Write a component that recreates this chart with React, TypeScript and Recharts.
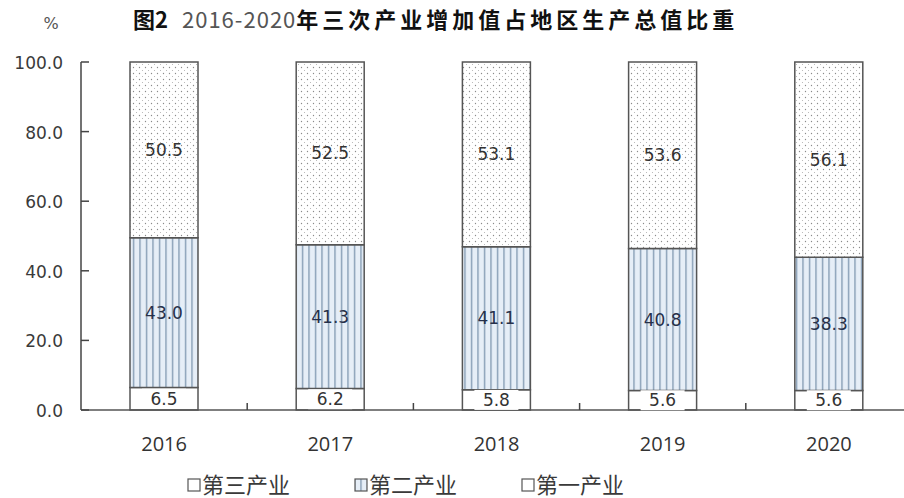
import React from 'react';
import { BarChart, Bar, XAxis, YAxis, LabelList, Legend } from 'recharts';

const years = ['2016', '2017', '2018', '2019', '2020'];
const tertiary = [50.5, 52.5, 53.1, 53.6, 56.1];
const secondary = [43.0, 41.3, 41.1, 40.8, 38.3];
const primary = [6.5, 6.2, 5.8, 5.6, 5.6];
const yTicks = [0, 20, 40, 60, 80, 100];
const seriesNames = ['第三产业', '第二产业', '第一产业'];
const titleParts = ['图2', '2016-2020', '年三次产业增加值占地区生产总值比重'];

const data = years.map((y, i) => ({
  idx: i,
  year: y,
  primary: primary[i],
  secondary: secondary[i],
  tertiary: tertiary[i],
}));

const xTicks = [0, 0.5, 1, 1.5, 2, 2.5, 3, 3.5, 4];

const XTick = (props: any) => {
  const { x, y, payload } = props;
  const v = payload.value;
  if (Number.isInteger(v)) {
    return (
      <text x={x} y={y + 41} textAnchor="middle" fontFamily="'Open Sans', sans-serif" fontSize={20} fill="#333">
        {years[v]}
      </text>
    );
  }
  return <line x1={x} x2={x} y1={y} y2={y - 7} stroke="#444" strokeWidth={1.5} />;
};

const YTick = (props: any) => {
  const { x, y, payload } = props;
  return (
    <g>
      <line x1={x} x2={x + 8} y1={y} y2={y} stroke="#444" strokeWidth={1.5} />
      <text x={x - 18} y={y + 7} textAnchor="end" fontFamily="'DejaVu Sans', sans-serif" fontSize={17} fill="#3a3a3a">
        {Number(payload.value).toFixed(1)}
      </text>
    </g>
  );
};

const makeLabel = (color: string, boxed: boolean) => (props: any) => {
  const { x, y, width, height, value } = props;
  const cx = x + width / 2;
  const cy = y + height / 2;
  return (
    <g>
      {boxed && <rect x={cx - 22} y={cy - 10} width={44} height={20} fill="#fff" />}
      <text x={cx} y={cy + 6} textAnchor="middle" fontFamily="'DejaVu Sans', sans-serif" fontSize={17} fill={color}>
        {Number(value).toFixed(1)}
      </text>
    </g>
  );
};

const LegendContent = () => {
  const items = [
    { x: 188, fill: '#fff' },
    { x: 355, fill: 'url(#vlines)' },
    { x: 522, fill: '#fff' },
  ];
  return (
    <svg width={904} height={30} style={{ display: 'block' }}>
      {items.map((it, i) => (
        <g key={i}>
          <rect x={it.x} y={11} width={12} height={12} fill={it.fill} stroke="#555" strokeWidth={1.2} />
          <text x={it.x + 14} y={25} fontFamily="'Noto Sans CJK SC', sans-serif" fontSize={22} fill="#3a3a3a">
            {seriesNames[i]}
          </text>
        </g>
      ))}
    </svg>
  );
};

export default function App() {
  return (
    <div style={{ position: 'absolute', left: 0, top: 0, width: 904, height: 498, overflow: 'hidden', background: '#fff' }}>
      <svg width={904} height={44} style={{ position: 'absolute', left: 0, top: 0 }}>
        <text x={133} y={28} fontFamily="'Noto Sans CJK SC', sans-serif" fontSize={22}>
          <tspan fontWeight="bold" fill="#111">{titleParts[0]}</tspan>
          <tspan dx={14} fill="#555" letterSpacing={1}>{titleParts[1]}</tspan>
          <tspan fontWeight="bold" fill="#111" letterSpacing={4}>{titleParts[2]}</tspan>
        </text>
        <text x={51} y={29} textAnchor="middle" fontFamily="'DejaVu Sans', sans-serif" fontSize={16} fill="#555">%</text>
      </svg>
      <BarChart
        width={912}
        height={498}
        data={data}
        margin={{ top: 62, right: 0, left: 0, bottom: 18 }}
        style={{ position: 'absolute', left: 0, top: 0 }}
      >
        <defs>
          <pattern id="dots" patternUnits="userSpaceOnUse" width={6} height={6}>
            <rect width={6} height={6} fill="#fff" />
            <circle cx={1.5} cy={1.5} r={0.65} fill="#8a8a8a" />
            <circle cx={4.5} cy={4.5} r={0.55} fill="#b0b0b0" />
          </pattern>
          <pattern id="vlines" patternUnits="userSpaceOnUse" width={6.5} height={6}>
            <rect width={6.5} height={6} fill="#e6eef7" />
            <rect x={3} width={1.1} height={6} fill="#6b86a3" />
          </pattern>
        </defs>
        <XAxis
          type="number"
          dataKey="idx"
          domain={[-0.5, 4.5]}
          ticks={xTicks}
          interval={0}
          allowDecimals
          height={40}
          tickSize={0}
          tickMargin={0}
          tickLine={false}
          tick={<XTick />}
          axisLine={{ stroke: '#555', strokeWidth: 1.5 }}
        />
        <YAxis
          width={81}
          domain={[0, 100]}
          ticks={yTicks}
          interval={0}
          tickSize={0}
          tickMargin={0}
          tickLine={false}
          tick={<YTick />}
          axisLine={{ stroke: '#444', strokeWidth: 1.5 }}
        />
        <Legend content={<LegendContent />} wrapperStyle={{ position: 'absolute', left: 0, top: 468, width: 904, height: 30 }} />
        <Bar dataKey="primary" name={seriesNames[2]} stackId="a" barSize={68} fill="#fff" stroke="#555" strokeWidth={1.5} isAnimationActive={false}>
          <LabelList dataKey="primary" content={makeLabel('#333', true)} />
        </Bar>
        <Bar dataKey="secondary" name={seriesNames[1]} stackId="a" barSize={68} fill="url(#vlines)" stroke="#555" strokeWidth={1.5} isAnimationActive={false}>
          <LabelList dataKey="secondary" content={makeLabel('#26304a', false)} />
        </Bar>
        <Bar dataKey="tertiary" name={seriesNames[0]} stackId="a" barSize={68} fill="url(#dots)" stroke="#555" strokeWidth={1.5} isAnimationActive={false}>
          <LabelList dataKey="tertiary" content={makeLabel('#333', false)} />
        </Bar>
      </BarChart>
    </div>
  );
}
